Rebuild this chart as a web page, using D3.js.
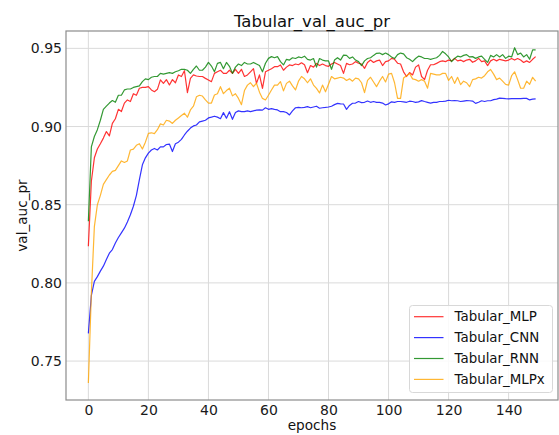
<!DOCTYPE html>
<html>
<head>
<meta charset="utf-8">
<script src="https://cdn.jsdelivr.net/npm/d3@7"></script>
<style>
  html, body { margin: 0; padding: 0; background: #fff; }
  svg { display: block; font-family: "DejaVu Sans", sans-serif; }
</style>
</head>
<body>
<svg id="chart" width="559" height="435"></svg>
<script>
const seriesNames = ["Tabular_MLP", "Tabular_CNN", "Tabular_RNN", "Tabular_MLPx"];
const seriesColors = ["#ff0000", "#0000ff", "#008000", "#ffa500"];
const xTicks = [0, 20, 40, 60, 80, 100, 120, 140];
const yTicks = [0.75, 0.80, 0.85, 0.90, 0.95];

const mlp = [
  .8234,.865,.880,.8856,.889,.8926,.8968,.894,.902,.905,
  .911,.9096,.915,.917,.916,.921,.920,.9245,.925,.925,
  .9255,.9234,.9223,.9238,.9298,.9276,.930,.9266,.930,.928,
  .933,.932,.9357,.9217,.9308,.933,.9323,.932,.932,.9308,
  .9298,.9287,.934,.935,.936,.934,.934,.936,.934,.9366,
  .934,.9366,.932,.933,.935,.937,.9276,.933,.9244,.935,
  .936,.937,.9383,.9383,.9394,.936,.938,.9394,.939,.940,
  .9395,.9408,.9395,.9344,.939,.938,.9404,.939,.940,.939,
  .9385,.940,.941,.940,.939,.934,.9404,.9395,.940,.9415,
  .9405,.940,.9372,.941,.9425,.941,.942,.9425,.939,.9415,
  .942,.9436,.943,.9405,.940,.935,.932,.9345,.933,.938,
  .9394,.932,.930,.936,.9395,.9395,.9404,.9415,.942,.9415,
  .9425,.942,.9436,.942,.9425,.9415,.9425,.943,.9411,.942,
  .9436,.9415,.942,.939,.942,.943,.942,.943,.9425,.942,
  .9425,.9435,.9425,.9435,.9425,.941,.942,.941,.943,.9447
];
const cnn = [
  .7677,.792,.801,.804,.8075,.8107,.815,.819,.8213,.8255,
  .829,.832,.835,.839,.8436,.849,.856,.866,.8755,.880,
  .883,.885,.886,.885,.887,.887,.8885,.8888,.884,.889,
  .890,.8918,.8946,.897,.899,.9004,.901,.903,.9035,.904,
  .9055,.906,.9066,.906,.905,.9089,.9053,.9095,.9046,.909,
  .910,.9095,.9095,.910,.9095,.910,.9105,.9106,.9105,.912,
  .911,.9115,.911,.9106,.9095,.9095,.909,.9074,.910,.912,
  .9123,.912,.9123,.9127,.912,.9125,.913,.9117,.912,.9122,
  .9125,.913,.914,.9148,.9145,.9144,.911,.9135,.9149,.915,
  .916,.9153,.9155,.9163,.9155,.916,.9155,.9155,.915,.9138,
  .9145,.9158,.9155,.916,.916,.9158,.9155,.9162,.916,.9155,
  .9158,.9166,.916,.9155,.915,.9155,.9155,.916,.916,.9163,
  .9168,.9165,.9166,.9165,.916,.9163,.9166,.9165,.9163,.9148,
  .9155,.9165,.916,.9165,.9165,.9172,.9175,.9182,.918,.9178,
  .9177,.9178,.9178,.9178,.9178,.918,.918,.917,.9175,.9177
];
const rnn = [
  .8394,.887,.8936,.898,.904,.911,.913,.915,.9166,.9155,
  .920,.920,.9234,.924,.924,.925,.9255,.926,.9287,.9305,
  .930,.9315,.932,.932,.934,.9335,.934,.9345,.934,.935,
  .9357,.9366,.9366,.936,.934,.9366,.9387,.936,.936,.938,
  .941,.9387,.935,.9404,.941,.937,.941,.9385,.934,.938,
  .940,.939,.941,.940,.940,.941,.940,.939,.935,.9405,
  .9436,.9447,.944,.9447,.9415,.9394,.943,.9425,.944,.9435,
  .9445,.944,.945,.943,.9425,.9435,.938,.9435,.9425,.942,
  .942,.9366,.9425,.944,.9425,.9457,.9455,.9436,.9445,.9425,
  .9415,.939,.942,.9435,.944,.9455,.9468,.947,.946,.947,
  .946,.9445,.9435,.946,.947,.9465,.944,.943,.9415,.9435,
  .945,.9445,.9435,.9435,.943,.9435,.944,.9455,.948,.9465,
  .9445,.9415,.9435,.945,.9445,.9455,.946,.9445,.9447,.9436,
  .9445,.945,.943,.941,.9455,.9445,.946,.9445,.946,.9436,
  .945,.9445,.9504,.946,.947,.9445,.946,.943,.949,.949
];
const mlpx = [
  .736,.7936,.836,.850,.856,.863,.866,.869,.8713,.872,
  .875,.878,.877,.878,.885,.8855,.888,.889,.8856,.890,
  .8956,.896,.8955,.898,.9017,.901,.904,.9035,.902,.904,
  .9055,.907,.9085,.906,.9106,.913,.919,.920,.9195,.917,
  .915,.915,.9202,.921,.9255,.921,.923,.9245,.9196,.921,
  .918,.914,.923,.9265,.928,.9255,.9277,.922,.918,.917,
  .920,.9234,.9265,.9265,.9287,.9228,.9276,.929,.926,.9234,
  .929,.932,.9305,.928,.9305,.9265,.9244,.9215,.9265,.9222,
  .927,.932,.9305,.931,.9315,.931,.9295,.9305,.929,.931,
  .9305,.928,.9217,.9295,.9315,.9285,.9255,.929,.932,.9285,
  .9335,.934,.928,.918,.918,.931,.9325,.934,.9305,.930,
  .929,.930,.929,.9245,.934,.9335,.933,.933,.934,.934,
  .9295,.932,.9276,.9315,.9268,.929,.928,.9255,.930,.9305,
  .9315,.931,.9325,.935,.9365,.9335,.930,.931,.929,.927,
  .9265,.9325,.935,.930,.9245,.9245,.929,.927,.9315,.929
];
const seriesValues = [mlp, cnn, rnn, mlpx];

(function () {
const svg = d3.select("#chart");
const pl = 66, pr = 558, pt = 31, pb = 400;
const nPts = mlp.length;
const xPad = (nPts - 1) * 0.05;
const x = d3.scaleLinear().domain([-xPad, (nPts - 1) + xPad]).range([pl, pr]);
const y = d3.scaleLinear().domain([0.7251, 0.9611]).range([pb, pt]);

// grid
const grid = svg.append("g");
grid.selectAll("line.gx").data(xTicks).join("line").attr("class", "gx")
  .attr("x1", d => x(d)).attr("x2", d => x(d))
  .attr("y1", pt).attr("y2", pb)
  .attr("stroke", "#dadada").attr("stroke-width", 1);
grid.selectAll("line.gy").data(yTicks).join("line").attr("class", "gy")
  .attr("x1", pl).attr("x2", pr)
  .attr("y1", d => y(d)).attr("y2", d => y(d))
  .attr("stroke", "#dadada").attr("stroke-width", 1);

// axes
const xAxis = d3.axisBottom(x).tickValues(xTicks).tickSize(0).tickPadding(5).tickFormat(d3.format("d"));
const yAxis = d3.axisLeft(y).tickValues(yTicks).tickSize(0).tickPadding(4).tickFormat(d3.format(".2f"));
const gx = svg.append("g").attr("transform", `translate(0,${pb})`).call(xAxis);
const gy = svg.append("g").attr("transform", `translate(${pl},0)`).call(yAxis);
[gx, gy].forEach(g => {
  g.select(".domain").remove();
  g.selectAll("text").attr("font-size", 14).attr("fill", "#1a1a1a").attr("font-family", "DejaVu Sans");
});

// lines
const line = d3.line().x((d, i) => x(i)).y(d => y(d));
seriesValues.forEach((vals, k) => {
  svg.append("path").datum(vals)
    .attr("d", line)
    .attr("fill", "none")
    .attr("stroke", seriesColors[k])
    .attr("stroke-opacity", 0.8)
    .attr("stroke-width", 1.2)
    .attr("stroke-linejoin", "round");
});

// spines
svg.append("rect").attr("x", pl).attr("y", pt)
  .attr("width", pr - pl).attr("height", pb - pt)
  .attr("fill", "none").attr("stroke", "#8c8c8c").attr("stroke-width", 1.2);

// title and labels
svg.append("text").attr("x", (pl + pr) / 2).attr("y", 27)
  .attr("text-anchor", "middle").attr("font-size", 16.5).attr("fill", "#111")
  .text("Tabular_val_auc_pr");
svg.append("text").attr("x", (pl + pr) / 2).attr("y", 430)
  .attr("text-anchor", "middle").attr("font-size", 13.6).attr("fill", "#111")
  .text("epochs");
svg.append("text").attr("transform", `translate(27,${(pt + pb) / 2}) rotate(-90)`)
  .attr("text-anchor", "middle").attr("font-size", 13.6).attr("fill", "#111")
  .text("val_auc_pr");

// legend
const lg = svg.append("g");
lg.append("rect").attr("x", 409.5).attr("y", 305.5).attr("width", 143).attr("height", 87)
  .attr("rx", 3).attr("fill", "#fff").attr("fill-opacity", 0.85)
  .attr("stroke", "#d8d8d8").attr("stroke-width", 1);
seriesNames.forEach((name, k) => {
  const yy = 316.7 + k * 20.9;
  lg.append("line").attr("x1", 414).attr("x2", 443.5).attr("y1", yy).attr("y2", yy)
    .attr("stroke", seriesColors[k]).attr("stroke-opacity", 0.8).attr("stroke-width", 1.2);
  lg.append("text").attr("x", 454.5).attr("y", yy).attr("dy", "0.35em")
    .attr("font-size", 13.4).attr("fill", "#111").text(name);
});
})();
</script>
</body>
</html>
